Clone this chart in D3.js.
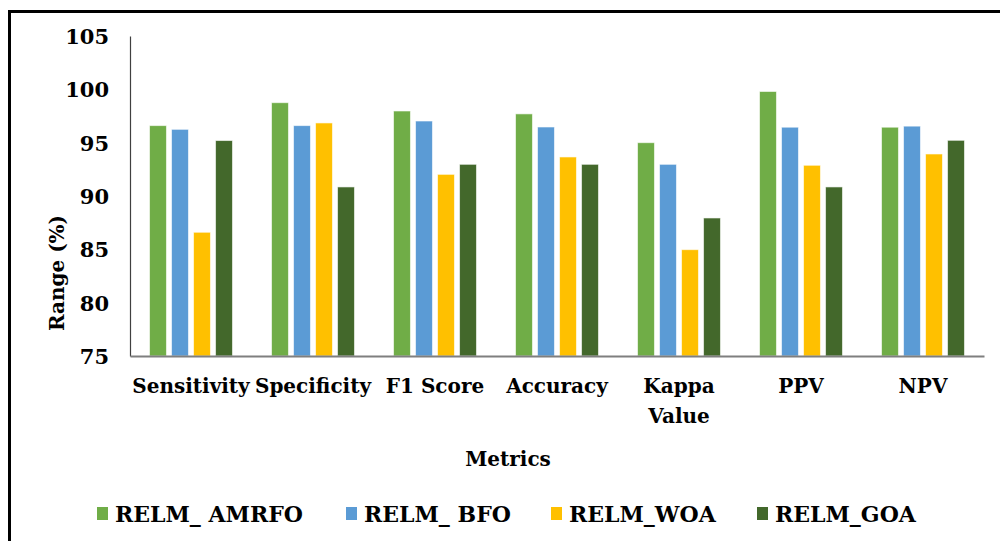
<!DOCTYPE html>
<html>
<head>
<meta charset="utf-8">
<script src="https://cdn.jsdelivr.net/npm/d3@7"></script>
<style>
  body { margin: 0; background: #fff; }
</style>
</head>
<body>
<div id="viz"></div>
<script>
var metrics = ['Sensitivity', 'Specificity', 'F1 Score', 'Accuracy', 'Kappa Value', 'PPV', 'NPV'];
var series = ['RELM_ AMRFO', 'RELM_ BFO', 'RELM_WOA', 'RELM_GOA'];
var colors = ['#70ad47', '#5b9bd5', '#ffc000', '#43682b'];

var amrfo = [96.6, 98.75, 97.97, 97.7, 95.0, 99.8, 96.45];
var bfo   = [96.25, 96.6, 97.03, 96.47, 92.97, 96.45, 96.55];
var woa   = [86.6, 96.85, 92.03, 93.66, 84.97, 92.88, 93.94];
var goa   = [95.2, 90.85, 92.97, 92.97, 87.94, 90.85, 95.22];
var yTicks = [75, 80, 85, 90, 95, 100, 105];

var w = 1000, h = 541;
var FONT = "'DejaVu Serif', 'Liberation Serif', serif";

var svg = d3.select('#viz')
  .append('svg')
  .attr('width', w)
  .attr('height', h)

// outer frame (runs off the right and bottom edge)
svg.append('rect')
  .attr('x', 9.5).attr('y', 11.5)
  .attr('width', 1020).attr('height', 560)
  .attr('fill', 'none')
  .attr('stroke', '#000')
  .attr('stroke-width', 3)

var x0 = d3.scaleBand()
  .domain(metrics)
  .range([130, 984])
  .paddingInner(0.32)
  .paddingOuter(0.16)

var x1 = d3.scaleBand()
  .domain(series)
  .range([0, x0.bandwidth()])
  .paddingInner(0.23)

var y = d3.scaleLinear()
  .domain([75, 105])
  .range([356, 36])

var rows = metrics.map(function(m, i) {
  return { metric: m, vals: [amrfo[i], bfo[i], woa[i], goa[i]] }
})

var groups = svg.append('g')
  .selectAll('g')
  .data(rows)
  .enter()
  .append('g')
  .attr('transform', d => 'translate(' + x0(d.metric) + ',0)')

groups.selectAll('rect')
  .data(d => d.vals.map((v, j) => ({ s: series[j], v: v, c: colors[j] })))
  .enter()
  .append('rect')
  .attr('x', d => x1(d.s))
  .attr('y', d => y(d.v))
  .attr('width', x1.bandwidth())
  .attr('height', d => y(75) - y(d.v))
  .attr('fill', d => d.c)
  .attr('stroke', '#fff')
  .attr('stroke-opacity', 0.6)
  .attr('stroke-width', 1)

// y axis
var yAxis = d3.axisLeft(y).tickValues(yTicks).tickSize(0).tickPadding(21)
var gy = svg.append('g')
  .attr('transform', 'translate(130,0)')
  .call(yAxis)
gy.select('.domain').attr('stroke', '#404040').attr('stroke-width', 1.2)
gy.selectAll('text')
  .style('font-family', FONT)
  .style('font-weight', 'bold')
  .style('font-size', '21px')
  .attr('fill', '#000')
  .attr('dy', '0.35em')

// x axis
var xAxis = d3.axisBottom(x0).tickSize(0).tickFormat('')
var gx = svg.append('g')
  .attr('transform', 'translate(0,356)')
  .call(xAxis)
gx.select('.domain').attr('stroke', '#7f7f7f').attr('stroke-width', 2)

// category labels
svg.append('g')
  .selectAll('text')
  .data(metrics)
  .enter()
  .append('text')
  .attr('x', d => x0(d) + x0.bandwidth() / 2)
  .attr('y', 393)
  .attr('text-anchor', 'middle')
  .style('font-family', FONT)
  .style('font-weight', 'bold')
  .style('font-size', '20px')
  .each(function(d) {
    var parts = d == 'Kappa Value' ? ['Kappa', 'Value'] : [d];
    var t = d3.select(this)
    parts.forEach(function(p, k) {
      t.append('tspan')
        .attr('x', x0(d) + x0.bandwidth() / 2)
        .attr('dy', k == 0 ? 0 : 30)
        .text(p)
    })
  })

// axis titles
svg.append('text')
  .attr('x', 508).attr('y', 466)
  .attr('text-anchor', 'middle')
  .style('font-family', FONT)
  .style('font-weight', 'bold')
  .style('font-size', '20px')
  .text('Metrics')

svg.append('text')
  .attr('transform', 'translate(64,273) rotate(-90)')
  .attr('text-anchor', 'middle')
  .style('font-family', FONT)
  .style('font-weight', 'bold')
  .style('font-size', '20px')
  .text('Range (%)')

// legend
var legX = [97, 346, 551, 757];
var leg = svg.append('g')
  .selectAll('g')
  .data(series)
  .enter()
  .append('g')
  .attr('transform', (d, i) => 'translate(' + legX[i] + ',0)')

leg.append('rect')
  .attr('x', 0).attr('y', 507)
  .attr('width', 11).attr('height', 13)
  .attr('fill', (d, i) => colors[i])

leg.append('text')
  .attr('x', 18).attr('y', 522)
  .style('font-family', FONT)
  .style('font-weight', 'bold')
  .style('font-size', '22px')
  .text(d => d)
</script>
</body>
</html>
